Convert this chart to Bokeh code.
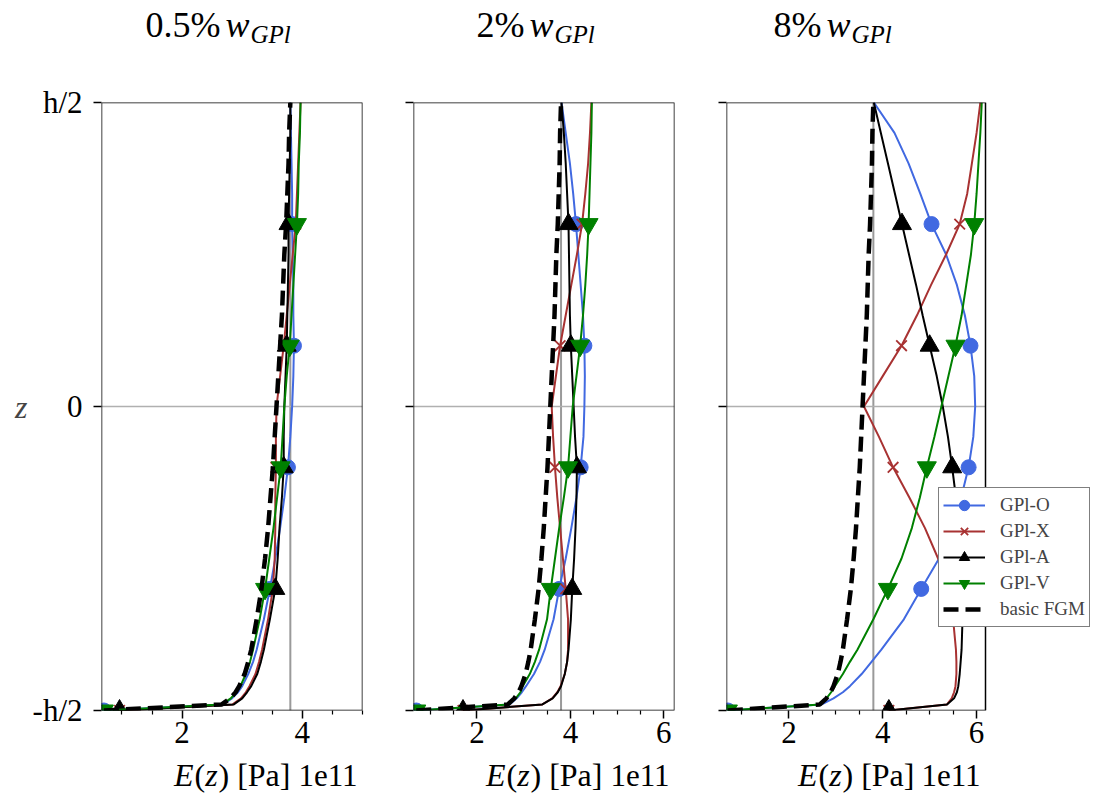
import numpy as np
from bokeh.plotting import figure
from bokeh.layouts import row, column
from bokeh.models import (Range1d, FixedTicker, CustomJSTickFormatter, Label,
                          Legend, LegendItem, Span, BoxAnnotation)
from bokeh.embed import file_html
from bokeh.resources import INLINE

# Through-thickness coordinate z (in units of h) at which the moduli are tabulated
Z = [-0.50, -0.49, -0.48, -0.47, -0.46, -0.44, -0.42, -0.40, -0.35, -0.30,
     -0.25, -0.20, -0.15, -0.10, -0.05, 0.00, 0.05, 0.10, 0.15, 0.20,
     0.25, 0.30, 0.35, 0.40, 0.45, 0.50]
# positions where the series markers sit
MARK_Z = [-0.50, -0.30, -0.10, 0.10, 0.30]

# Young's modulus E(z) in units of 1e11 Pa
E_FGM = [0.70, 2.66, 2.80, 2.89, 2.95, 3.04, 3.10, 3.15, 3.24, 3.32,
         3.38, 3.43, 3.47, 3.51, 3.54, 3.57, 3.60, 3.63, 3.66, 3.68,
         3.70, 3.73, 3.75, 3.77, 3.78, 3.80]

# 0.5 % GPl
O_05 = [0.70, 2.68, 2.83, 2.93, 3.00, 3.10, 3.18, 3.24, 3.36, 3.46,
        3.55, 3.63, 3.70, 3.76, 3.80, 3.83, 3.85, 3.86, 3.85, 3.85,
        3.84, 3.83, 3.83, 3.82, 3.81, 3.80]
X_05 = [0.96, 2.84, 2.98, 3.06, 3.12, 3.22, 3.28, 3.33, 3.43, 3.51,
        3.54, 3.55, 3.55, 3.56, 3.56, 3.57, 3.63, 3.69, 3.74, 3.79,
        3.84, 3.89, 3.91, 3.93, 3.95, 3.97]
A_05 = [0.96, 2.86, 3.00, 3.08, 3.15, 3.25, 3.31, 3.36, 3.46, 3.55,
        3.59, 3.62, 3.66, 3.69, 3.69, 3.70, 3.72, 3.74, 3.75, 3.76,
        3.77, 3.77, 3.78, 3.79, 3.80, 3.80]
V_05 = [0.70, 2.66, 2.81, 2.90, 2.97, 3.06, 3.13, 3.18, 3.29, 3.38,
        3.45, 3.52, 3.58, 3.64, 3.67, 3.70, 3.74, 3.79, 3.82, 3.85,
        3.88, 3.91, 3.93, 3.94, 3.96, 3.97]

# 2 % GPl
O_2 = [0.70, 2.70, 2.85, 2.96, 3.05, 3.22, 3.35, 3.45, 3.64, 3.76,
       3.90, 4.02, 4.13, 4.22, 4.28, 4.30, 4.31, 4.30, 4.27, 4.22,
       4.17, 4.12, 4.06, 3.99, 3.90, 3.81]
X_2 = [1.70, 3.40, 3.61, 3.72, 3.79, 3.88, 3.93, 3.95, 3.95, 3.90,
       3.84, 3.78, 3.72, 3.67, 3.63, 3.60, 3.69, 3.78, 3.90, 4.02,
       4.14, 4.25, 4.32, 4.38, 4.42, 4.45]
A_2 = [1.70, 3.40, 3.62, 3.73, 3.80, 3.88, 3.93, 3.96, 4.01, 4.04,
       4.08, 4.11, 4.13, 4.14, 4.10, 4.07, 4.04, 4.01, 3.99, 3.98,
       3.97, 3.96, 3.93, 3.90, 3.86, 3.81]
V_2 = [0.70, 2.68, 2.83, 2.93, 2.98, 3.13, 3.24, 3.33, 3.50, 3.58,
       3.67, 3.76, 3.86, 3.95, 4.00, 4.05, 4.13, 4.21, 4.27, 4.32,
       4.36, 4.39, 4.41, 4.43, 4.45, 4.46]

# 8 % GPl
O_8 = [0.70, 2.70, 2.95, 3.15, 3.30, 3.55, 3.76, 3.97, 4.45, 4.82,
       5.20, 5.47, 5.67, 5.83, 5.93, 5.97, 5.95, 5.87, 5.75, 5.58,
       5.35, 5.04, 4.80, 4.55, 4.25, 3.81]
X_8 = [4.13, 5.37, 5.47, 5.52, 5.55, 5.57, 5.57, 5.56, 5.50, 5.40,
       5.18, 4.90, 4.57, 4.22, 3.92, 3.60, 4.00, 4.40, 4.73, 5.03,
       5.35, 5.64, 5.80, 5.90, 6.00, 6.08]
A_8 = [4.13, 5.37, 5.52, 5.58, 5.61, 5.64, 5.66, 5.68, 5.70, 5.70,
       5.67, 5.62, 5.56, 5.48, 5.39, 5.28, 5.15, 5.00, 4.85, 4.71,
       4.56, 4.41, 4.26, 4.11, 3.96, 3.81]
V_8 = [0.70, 2.67, 2.80, 2.90, 2.98, 3.15, 3.30, 3.46, 3.80, 4.11,
       4.40, 4.62, 4.79, 4.94, 5.10, 5.25, 5.40, 5.55, 5.68, 5.78,
       5.88, 5.95, 6.00, 6.04, 6.08, 6.11]

E_REF = 3.8          # vertical reference line
Z_MID = 0.0          # mid-plane

TITLES = ["0.5%", "2%", "8%"]
X_LIMITS = [(0.66, 5.0), (0.64, 6.23), (0.67, 6.19)]
X_TICKS = [[2, 4], [2, 4, 6], [2, 4, 6]]
Y_TICKS = [-0.5, 0.0, 0.5]
Y_TICK_LABELS = ["-h/2", "0", "h/2"]
DATA = [(O_05, X_05, A_05, V_05), (O_2, X_2, A_2, V_2), (O_8, X_8, A_8, V_8)]

SERIES = [("GPl-O", "royalblue", "circle", 15),
          ("GPl-X", "#a83232", "x", 15),
          ("GPl-A", "black", "triangle", 19),
          ("GPl-V", "green", "inverted_triangle", 19)]

FONT = "Liberation Serif"

# page geometry (pixels)
PAGE_W = 1101
HEAD_H = 70
FOOT_H = 40
PANEL_H = 686
FIG_W = [382, 312, 407]
BORDER_L = [101, 31, 32]
BORDER_R = [20, 20, 6]
FRAME_W = [261, 261, 259]      # visible box width of each panel
BORDER_T = 32
BORDER_B = 46
TITLE_PCT_END = [220, 524, 821]

mark_idx = [Z.index(z) for z in MARK_Z]


def add_text(p, text, x, y, size_px, italic=False, align="left"):
    # y is the wanted baseline; texts are anchored on their middle
    p.add_layout(Label(x=x, y=y + 0.36 * size_px, text=text,
                       text_font=FONT, text_font_size=f"{size_px}px",
                       text_font_style="italic" if italic else "normal",
                       text_align=align, text_baseline="middle", text_color="black"))


def blank(width, height):
    # text strip whose data coordinates are page pixels (y measured upward)
    p = figure(width=width, height=height, x_range=Range1d(0, width),
               y_range=Range1d(0, height), output_backend="svg", title=None,
               toolbar_location=None, x_axis_location=None, y_axis_location=None,
               min_border=0)
    p.outline_line_color = None
    p.xgrid.visible = False
    p.ygrid.visible = False
    p.background_fill_color = "white"
    p.border_fill_color = "white"
    return p


def make_panel(k):
    fw_total = FIG_W[k] - BORDER_L[k] - BORDER_R[k]
    x0, x1 = X_LIMITS[k]
    # the last panel keeps extra room on the right of its box for the legend
    x_end = x0 + (x1 - x0) * fw_total / FRAME_W[k]
    p = figure(width=FIG_W[k], height=PANEL_H,
               x_range=Range1d(x0, x_end), y_range=Range1d(-0.5, 0.5),
               output_backend="svg", toolbar_location=None,
               min_border_left=BORDER_L[k], min_border_right=BORDER_R[k],
               min_border_top=BORDER_T, min_border_bottom=BORDER_B)
    p.xgrid.visible = False
    p.ygrid.visible = False
    p.outline_line_color = None
    p.background_fill_color = "white"
    p.border_fill_color = "white"

    minor = [float(v) for v in np.arange(1.0, x1 + 0.001, 0.5) if v not in X_TICKS[k]]
    xa = p.xaxis[0]
    xa.ticker = FixedTicker(ticks=X_TICKS[k], minor_ticks=minor)
    xa.major_label_text_font = FONT
    xa.major_label_text_font_size = "31px"
    xa.major_label_text_color = "black"
    xa.major_label_standoff = 3
    xa.axis_line_color = None
    xa.major_tick_line_width = 1.5
    xa.minor_tick_line_width = 1.2
    xa.major_tick_out = 8
    xa.major_tick_in = 0
    xa.minor_tick_out = 4
    xa.minor_tick_in = 0

    ya = p.yaxis[0]
    ya.ticker = FixedTicker(ticks=Y_TICKS, minor_ticks=[])
    labels = Y_TICK_LABELS if k == 0 else ["", "", ""]
    ya.formatter = CustomJSTickFormatter(args=dict(vals=Y_TICKS, labs=labels), code="""
        const i = vals.findIndex(v => Math.abs(v - tick) < 1e-9);
        return i >= 0 ? labs[i] : '';
    """)
    ya.major_label_text_font = FONT
    ya.major_label_text_font_size = "31px"
    ya.major_label_text_color = "black"
    ya.major_label_standoff = 11
    ya.axis_line_color = None
    ya.major_tick_line_width = 1.5
    ya.major_tick_out = 8
    ya.major_tick_in = 0
    ya.minor_tick_out = 0
    ya.minor_tick_in = 0
    if k == 0:
        ya.axis_label = "z"
        ya.axis_label_text_font = FONT
        ya.axis_label_text_font_style = "italic"
        ya.axis_label_text_font_size = "32px"
        ya.axis_label_orientation = "horizontal"
        ya.axis_label_standoff = 2

    p.add_layout(Span(location=E_REF, dimension="height", line_color="#9a9a9a",
                      line_width=2, level="underlay"))
    p.add_layout(BoxAnnotation(left=x0, right=x1, bottom=Z_MID, top=Z_MID,
                               fill_alpha=0, line_color="#b0b0b0", line_alpha=1.0,
                               line_width=1.5, level="underlay"))

    items = []
    for (name, color, marker, size), e in zip(SERIES, DATA[k]):
        ln = p.line(e, Z, line_color=color, line_width=2)
        ex = [e[i] for i in mark_idx]
        zx = [Z[i] for i in mark_idx]
        if marker == "x":
            sc = p.scatter(ex, zx, marker=marker, size=size, line_color=color,
                           line_width=1.8, fill_color=None)
        else:
            sc = p.scatter(ex, zx, marker=marker, size=size, line_color=color,
                           fill_color=color, line_width=1)
        items.append(LegendItem(label=name, renderers=[ln, sc]))
    fgm = p.line(E_FGM, Z, line_color="black", line_width=4.5, line_dash="15 7")
    items.append(LegendItem(label="basic FGM", renderers=[fgm]))

    # panel box
    p.add_layout(BoxAnnotation(left=x0, right=x1, bottom=-0.5, top=0.5,
                               fill_alpha=0, line_color="black", line_alpha=1.0,
                               line_width=1.5))

    if k == 2:
        leg = Legend(items=items, location=(212, 83), glyph_width=42, glyph_height=26,
                     spacing=0, padding=4, margin=0, label_standoff=15,
                     label_height=20, label_text_font=FONT, label_text_font_size="19px",
                     border_line_color="black", border_line_width=1.5,
                     background_fill_color="white", background_fill_alpha=1.0)
        p.add_layout(leg)
    return p


# headings: percentage, then italic w with subscript GPl
head = blank(PAGE_W, HEAD_H)
for k in range(3):
    pe = TITLE_PCT_END[k]
    add_text(head, TITLES[k], pe, HEAD_H - 37, 36, align="right")
    add_text(head, "w", pe + 5, HEAD_H - 37, 36, italic=True)
    add_text(head, "GPl", pe + 30, HEAD_H - 43, 25, italic=True)

# axis captions E(z) [Pa] with the 1e11 scale factor
foot = blank(PAGE_W, FOOT_H)
left = 0
for k in range(3):
    fl = left + BORDER_L[k]
    centre = fl + FRAME_W[k] / 2
    s = centre - 58
    add_text(foot, "E", s, 10, 32, italic=True)
    add_text(foot, "(", s + 20.5, 10, 32)
    add_text(foot, "z", s + 31.3, 10, 32, italic=True)
    add_text(foot, ") [Pa]", s + 44.5, 10, 32)
    add_text(foot, "1e11", fl + FRAME_W[k] - 5, 10, 31, align="right")
    left += FIG_W[k]

panels = row([make_panel(k) for k in range(3)], spacing=0)
layout = column([head, panels, foot], spacing=0)
open("out.html", "w").write(file_html(layout, INLINE))
